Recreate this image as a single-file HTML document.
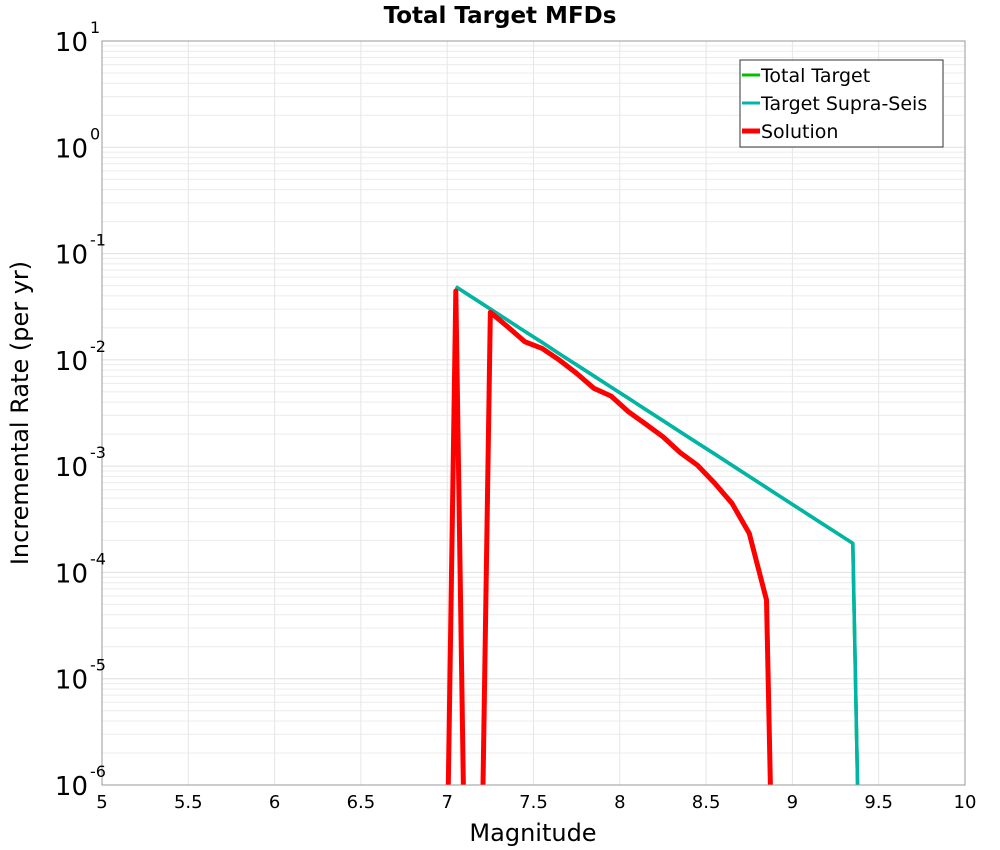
<!DOCTYPE html>
<html><head><meta charset="utf-8"><style>
html,body{margin:0;padding:0;background:#fff;overflow:hidden;width:1000px;height:850px;font-family:"Liberation Sans","DejaVu Sans",sans-serif}
svg{display:block}
</style></head><body>
<svg id="chart" width="1000" height="850" xmlns="http://www.w3.org/2000/svg" font-family="DejaVu Sans, Liberation Sans, sans-serif">
<rect width="1000" height="850" fill="#fff"/>
<text x="500" y="23" text-anchor="middle" font-size="23" font-weight="bold">Total Target MFDs</text>
<g id="grid"></g>
<g id="series"></g>
<rect x="102" y="41" width="863" height="744" fill="none" stroke="#999"/>
<g id="axes"></g>
<text x="533" y="841" text-anchor="middle" font-size="24">Magnitude</text>
<text transform="translate(28,413) rotate(-90)" text-anchor="middle" font-size="24">Incremental Rate (per yr)</text>
<g>
<rect x="740" y="60" width="203" height="87" fill="#fff" stroke="#333"/>
<g><line x1="742" y1="75" x2="760" y2="75" stroke="#00c000" stroke-width="3"/><text x="761" y="82" font-size="19">Total Target</text></g>
<g><line x1="742" y1="103" x2="760" y2="103" stroke="#00b4b4" stroke-width="3"/><text x="761" y="110" font-size="19">Target Supra-Seis</text></g>
<g><line x1="742" y1="131" x2="760" y2="131" stroke="#ff0000" stroke-width="5"/><text x="761" y="138" font-size="19">Solution</text></g>
</g>
</svg>
<script>
const xTicks=[5,5.5,6,6.5,7,7.5,8,8.5,9,9.5,10];
const yExps=[-6,-5,-4,-3,-2,-1,0,1];
const targetMags=[7.05,7.15,7.25,7.35,7.45,7.55,7.65,7.75,7.85,7.95,8.05,8.15,8.25,8.35,8.45,8.55,8.65,8.75,8.85,8.95,9.05,9.15,9.25,9.35,9.45];
const totalTarget=[0.0488,0.0383,0.0301,0.0236,0.0185,0.0146,0.0114,0.00897,0.00705,0.00553,0.00435,0.00341,0.00268,0.0021,0.00165,0.0013,0.00102,0.0008,0.000628,0.000493,0.000387,0.000304,0.000239,0.000188,0];
const supraSeis=[0.0488,0.0383,0.0301,0.0236,0.0185,0.0146,0.0114,0.00897,0.00705,0.00553,0.00435,0.00341,0.00268,0.0021,0.00165,0.0013,0.00102,0.0008,0.000628,0.000493,0.000387,0.000304,0.000239,0.000188,0];
const solMags=[6.95,7.05,7.15,7.25,7.35,7.45,7.55,7.65,7.75,7.85,7.95,8.05,8.15,8.25,8.35,8.45,8.55,8.65,8.75,8.85,8.95];
const solution=[0,0.0444,0,0.028,0.0205,0.0148,0.0128,0.00995,0.00746,0.0054,0.00456,0.00325,0.00249,0.00189,0.00134,0.00102,0.00069,0.000447,0.000233,0.000055,0];

const NS='http://www.w3.org/2000/svg';
const L=102,R=965,T=41,B=785;
const xS=m=>L+(m-5)/5*(R-L);
const yS=v=>{const lg=v>0?Math.log10(v):-12;return B-(lg+6)/7*(B-T);};
function mk(tag,attrs,parent){const e=document.createElementNS(NS,tag);for(const k in attrs)e.setAttribute(k,attrs[k]);parent.appendChild(e);return e;}
const grid=document.getElementById('grid'),axes=document.getElementById('axes'),series=document.getElementById('series');
for(let i=0;i<yExps.length-1;i++){for(let k=2;k<=9;k++){const y=yS(k*Math.pow(10,yExps[i]));
const g=mk('line',{x1:L,x2:R,y1:y,y2:y,stroke:'#ececec','stroke-width':1},grid);

}}
yExps.forEach(e=>{const y=yS(Math.pow(10,e));
const g=mk('line',{x1:L,x2:R,y1:y,y2:y,stroke:'#e0e0e0','stroke-width':1},grid);


const t=mk('text',{x:88,y:y+10,'text-anchor':'end','font-size':26},axes);


t.textContent='10';
const s=mk('text',{x:90,y:y-8,'font-size':16},axes);


s.textContent=String(e);});
xTicks.forEach(m=>{const x=xS(m);
const g=mk('line',{x1:x,x2:x,y1:T,y2:B,stroke:'#e6e6e6','stroke-width':1},grid);


const t=mk('text',{x:x,y:808,'text-anchor':'middle','font-size':18},axes);


t.textContent=String(m);});
const cp=mk('clipPath',{id:'clip'},document.getElementById('chart'));
mk('rect',{x:L,y:T,width:R-L,height:B-T},cp);
function line(ms,vs,col,w,name){const d=ms.map((m,i)=>(i?'L':'M')+xS(m).toFixed(2)+' '+yS(vs[i]).toFixed(2)).join(' ');
const p=mk('path',{d:d,fill:'none',stroke:col,'stroke-width':w,'stroke-linejoin':'round','clip-path':'url(#clip)'},series);

}
line(targetMags,totalTarget,'#00c000',3.5,'total-target-line');
line(targetMags,supraSeis,'#00b4a8',3.5,'target-supra-seis-line');
line(solMags,solution,'#ff0000',5,'solution-line');
</script>
</body></html>
